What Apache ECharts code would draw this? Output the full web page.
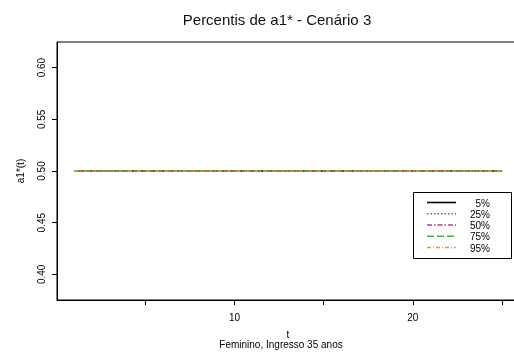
<!DOCTYPE html>
<html>
<head>
<meta charset="utf-8">
<script src="https://cdn.jsdelivr.net/npm/echarts@6/dist/echarts.min.js"></script>
<style>html,body{margin:0;padding:0;background:#fff;}#c{width:514px;height:360px;}</style>
</head>
<body>
<div id="c"></div>
<script>
var tValues = [1,2,3,4,5,6,7,8,9,10,11,12,13,14,15,16,17,18,19,20,21,22,23,24,25];
var p5  = [0.5,0.5,0.5,0.5,0.5,0.5,0.5,0.5,0.5,0.5,0.5,0.5,0.5,0.5,0.5,0.5,0.5,0.5,0.5,0.5,0.5,0.5,0.5,0.5,0.5];
var p25 = [0.5,0.5,0.5,0.5,0.5,0.5,0.5,0.5,0.5,0.5,0.5,0.5,0.5,0.5,0.5,0.5,0.5,0.5,0.5,0.5,0.5,0.5,0.5,0.5,0.5];
var p50 = [0.5,0.5,0.5,0.5,0.5,0.5,0.5,0.5,0.5,0.5,0.5,0.5,0.5,0.5,0.5,0.5,0.5,0.5,0.5,0.5,0.5,0.5,0.5,0.5,0.5];
var p75 = [0.5,0.5,0.5,0.5,0.5,0.5,0.5,0.5,0.5,0.5,0.5,0.5,0.5,0.5,0.5,0.5,0.5,0.5,0.5,0.5,0.5,0.5,0.5,0.5,0.5];
var p95 = [0.5,0.5,0.5,0.5,0.5,0.5,0.5,0.5,0.5,0.5,0.5,0.5,0.5,0.5,0.5,0.5,0.5,0.5,0.5,0.5,0.5,0.5,0.5,0.5,0.5];
var seriesNames = ['5%','25%','50%','75%','95%'];
var xTicks = [5,10,15,20,25];
var xTickLabels = [10,20];
var yTicks = [0.40,0.45,0.50,0.55,0.60];

var FONT = 'Liberation Sans, Arial, sans-serif';
function pairs(vals){ return tValues.map(function(t,i){ return [t, vals[i]]; }); }
var styles = [
  {color:'#000000', type:'solid'},
  {color:'#4f6fbf', type:[1.5,2]},
  {color:'#b0457f', type:[5,2,1.5,2]},
  {color:'#3fae49', type:[7,3]},
  {color:'#f39233', type:[4,2,1,2]}
];
var allVals = [p5,p25,p50,p75,p95];
var series = allVals.map(function(v,i){
  return {
    name: seriesNames[i], type:'line', data: pairs(v), symbol:'none',
    lineStyle:{color:styles[i].color, type:styles[i].type, width:1.5},
    itemStyle:{color:styles[i].color},
    silent:true, animation:false
  };
});

// legend drawn as graphic (box, line samples, right-aligned labels)
var legendChildren = [{type:'rect', shape:{x:413.5, y:192.5, width:98, height:66},
  style:{fill:'#fff', stroke:'#000', lineWidth:1}}];
var rowY = [202.5, 213.8, 225, 236.2, 247.5];
seriesNames.forEach(function(n,i){
  var dash = styles[i].type === 'solid' ? null : styles[i].type;
  legendChildren.push({type:'line', shape:{x1:427, y1:rowY[i], x2:456, y2:rowY[i]},
    style:{stroke:styles[i].color, lineWidth:1.6, lineDash:dash}});
  legendChildren.push({type:'text', x:490, y:rowY[i]+1.5,
    style:{text:n, fill:'#000', fontSize:10, fontFamily:FONT, align:'right', verticalAlign:'middle'}});
});

var chart = echarts.init(document.getElementById('c'), null, {renderer:'canvas'});
chart.setOption({
  animation:false,
  backgroundColor:'#fff',
  textStyle:{fontFamily:FONT},
  title:[
    {text:'Percentis de a1* - Cenário 3', left:272, top:8, textAlign:'center',
     textStyle:{fontSize:15, fontWeight:'normal', color:'#111', fontFamily:FONT}},
    {text:'Feminino, Ingresso 35 anos', left:276, top:335, textAlign:'center',
     textStyle:{fontSize:10, fontWeight:'normal', color:'#000', fontFamily:FONT}}
  ],
  grid:{left:57, top:42, width:462, height:258, outerBoundsMode:'none', containLabel:false,
    show:true, borderColor:'#000', borderWidth:1, backgroundColor:'transparent'},
  xAxis:{
    type:'value', min:0.04, max:25.96,
    name:'t', nameLocation:'middle', nameGap:30,
    nameTextStyle:{fontSize:10, color:'#000', fontFamily:FONT},
    axisLine:{show:true, lineStyle:{color:'#000', width:1}},
    axisTick:{show:true, length:5, customValues:xTicks, lineStyle:{color:'#000'}},
    axisLabel:{show:true, customValues:xTickLabels, fontSize:10, color:'#000', margin:13, fontFamily:FONT},
    splitLine:{show:false}
  },
  yAxis:{
    type:'value', min:0.3752, max:0.6248,
    name:'a1*(t)', nameLocation:'middle', nameGap:31, nameRotate:90,
    nameTextStyle:{fontSize:10, color:'#000', fontFamily:FONT},
    axisLine:{show:true, lineStyle:{color:'#000', width:1}},
    axisTick:{show:true, length:5, customValues:yTicks, lineStyle:{color:'#000'}},
    axisLabel:{show:true, customValues:yTicks, rotate:90, fontSize:10, color:'#000', margin:10, fontFamily:FONT,
      formatter:function(v){ return v.toFixed(2); }},
    splitLine:{show:false}
  },
  graphic:[{type:'group', children:legendChildren, silent:true}],
  series:series
});
</script>
</body>
</html>
